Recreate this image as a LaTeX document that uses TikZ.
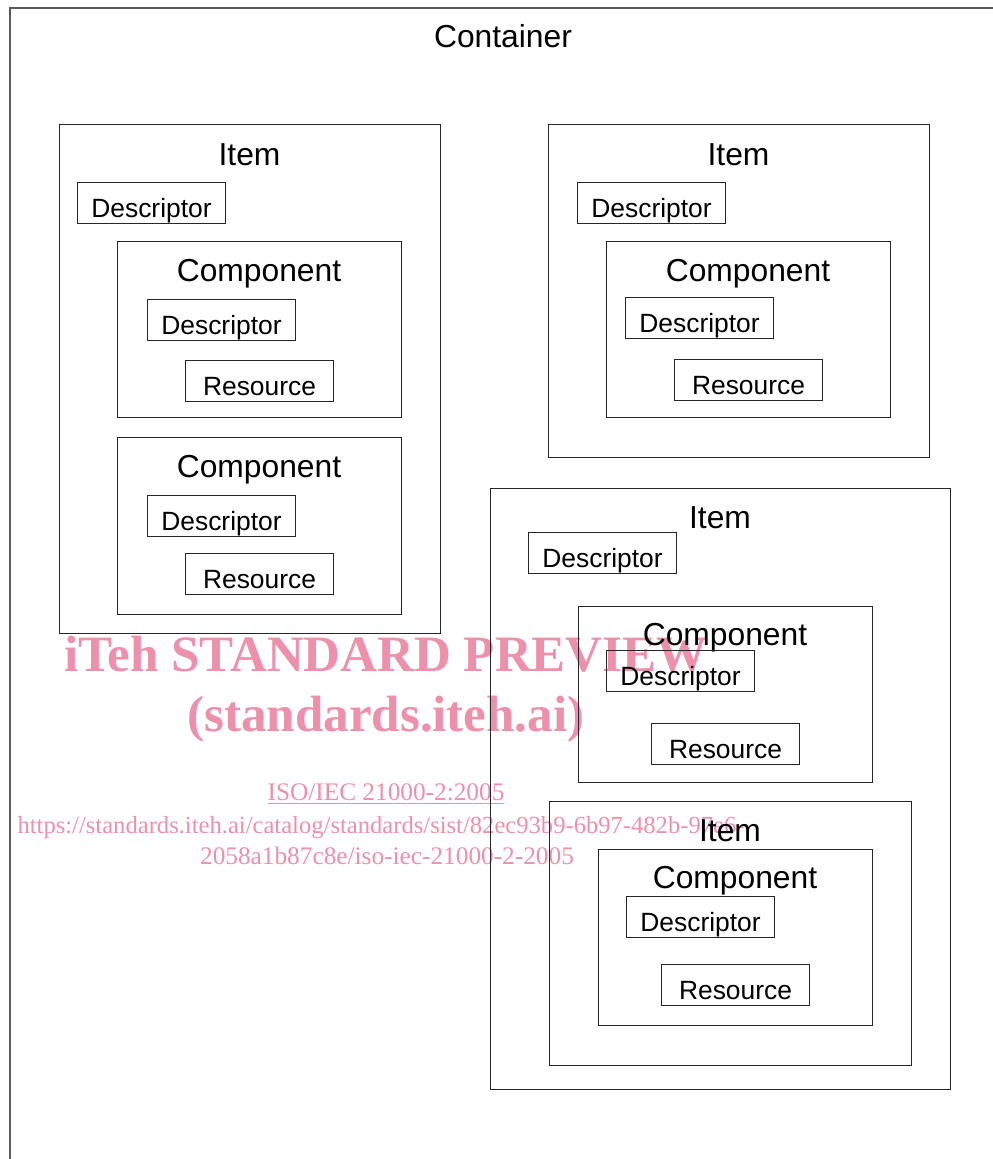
\documentclass[tikz,border=0pt]{standalone}
\usepackage{fontspec}
\setmainfont{Liberation Sans}
\newfontfamily\wmfont{Liberation Serif}
\usetikzlibrary{positioning,fit}
\definecolor{wmpink}{RGB}{238,143,171}

\tikzset{
	frame/.style={draw=black!85, line width=0.5pt, inner sep=0pt},
	outer/.style={draw=black!65, line width=0.9pt, inner sep=0pt},
	head/.style={font=\fontsize{15.9}{18}\selectfont, inner sep=0pt, anchor=base},
	part/.style={draw=black!85, line width=0.5pt, anchor=north west, inner sep=0pt,
		minimum width=74pt, minimum height=20.5pt, text height=14.5pt, text depth=0pt,
		font=\fontsize{13.2}{15}\selectfont},
	wmbig/.style={text=wmpink, inner sep=0pt, anchor=base, font=\wmfont\bfseries\fontsize{25.5}{28}\selectfont},
	wmsmall/.style={text=wmpink, inner sep=0pt, anchor=base, font=\wmfont\fontsize{12.65}{14}\selectfont}
}

\begin{document}
\begin{tikzpicture}[x=0.5pt, y=-0.5pt]
	\useasboundingbox (0,0) rectangle (992,1159);

	\node[wmbig] (wm1) at (386,671) {iTeh STANDARD PREVIEW};
	\node[wmbig] (wm2) at (386,731) {(standards.iteh.ai)};
	\node[wmsmall] (wm3) at (386,800) {\underline{ISO/IEC 21000-2:2005}};
	\node[wmsmall, font=\wmfont\fontsize{12.3}{14}\selectfont] (wm4) at (381,833) {https://standards.iteh.ai/catalog/standards/sist/82ec93b9-6b97-482b-97e6-};
	\node[wmsmall] (wm5) at (387,864) {2058a1b87c8e/iso-iec-21000-2-2005};

	\node[outer, fit={(10,8) (996,1175)}] (cont) {};
	\node[below=20pt of cont.north, head] (contt) {Container};

	\node[frame, fit={(59,125) (440,633)}] (item1) {};
	\node[below=20.5pt of item1.north, head] (item1t) {Item};
	\node[part] (item1d) at (77,182) {Descriptor};
	\node[frame, fit={(117,242) (401,418)}] (comp11) {};
	\node[below=20pt of comp11.north, head] (comp11t) {Component};
	\node[part] (comp11d) at (147,299) {Descriptor};
	\node[part] (comp11r) at (185,360) {Resource};
	\node[frame, fit={(117,438) (401,614)}] (comp12) {};
	\node[below=20pt of comp12.north, head] (comp12t) {Component};
	\node[part] (comp12d) at (147,495) {Descriptor};
	\node[part] (comp12r) at (185,553) {Resource};

	\node[frame, fit={(548,125) (929,458)}] (item2) {};
	\node[below=20.5pt of item2.north, head] (item2t) {Item};
	\node[part] (item2d) at (577,182) {Descriptor};
	\node[frame, fit={(606,242) (890,418)}] (comp21) {};
	\node[below=20pt of comp21.north, head] (comp21t) {Component};
	\node[part] (comp21d) at (625,297) {Descriptor};
	\node[part] (comp21r) at (674,359) {Resource};

	\node[frame, fit={(490,488) (950,1089)}] (item3) {};
	\node[below=20.5pt of item3.north, head] (item3t) {Item};
	\node[part] (item3d) at (528,532) {Descriptor};
	\node[frame, fit={(578,606) (872,782)}] (comp31) {};
	\node[below=20pt of comp31.north, head] (comp31t) {Component};
	\node[part] (comp31d) at (606,650) {Descriptor};
	\node[part] (comp31r) at (651,723) {Resource};

	\node[frame, fit={(549,801) (911,1065)}] (item4) {};
	\node[below=20.5pt of item4.north, head] (item4t) {Item};
	\node[frame, fit={(598,849) (872,1025)}] (comp41) {};
	\node[below=20pt of comp41.north, head] (comp41t) {Component};
	\node[part] (comp41d) at (626,896) {Descriptor};
	\node[part] (comp41r) at (661,964) {Resource};
\end{tikzpicture}
\end{document}
